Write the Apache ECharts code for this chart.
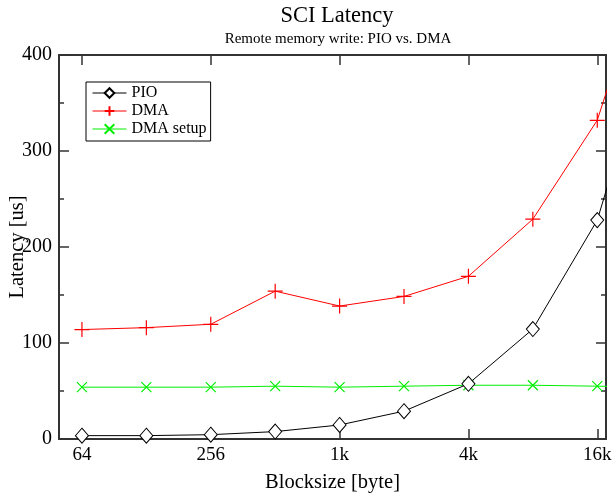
<!DOCTYPE html>
<html>
<head>
<meta charset="utf-8">
<script src="https://cdn.jsdelivr.net/npm/echarts@6/dist/echarts.min.js"></script>
<style>
  html, body { margin: 0; padding: 0; background: #fff; }
  #chart { width: 616px; height: 497px; }
</style>
</head>
<body>
<div id="chart"></div>
<script>
// Block sizes in bytes (log2 x axis)
const blockSizes = [64, 128, 256, 512, 1024, 2048, 4096, 8192, 16384, 32768];
// Latency in microseconds
const pioLatency = [3.5, 3.5, 4.5, 7.7, 14.6, 29, 57.5, 114.5, 228, 450];
const dmaLatency = [114, 116, 119.5, 154, 138.5, 148.5, 169.5, 229, 332, 540];
const dmaSetupLatency = [54, 54, 54, 55, 54, 55, 56, 56, 55, 54];

const xTickValues = [64, 256, 1024, 4096, 16384];
const xTickLabels = ['64', '256', '1k', '4k', '16k'];

const SERIF = '"Liberation Serif", "DejaVu Serif", serif';
const FRAME = '#333';

function pairs(ys) {
  return blockSizes.map((x, i) => [x, ys[i]]);
}

const plusPath = 'path://M0,5L10,5M5,0L5,10';
const crossPath = 'path://M0,0L10,10M10,0L0,10';

const xBase = {
  type: 'log',
  logBase: 2,
  min: 50,
  max: 18000,
  axisLine: { show: true, onZero: false, lineStyle: { color: FRAME, width: 2 } },
  splitLine: { show: false },
  minorTick: { show: false }
};

const yBase = {
  type: 'value',
  min: 0,
  max: 400,
  interval: 100,
  axisLine: { show: true, onZero: false, lineStyle: { color: FRAME, width: 2 } },
  axisTick: { show: true, inside: true, length: 10, lineStyle: { color: FRAME, width: 1.5 } },
  minorTick: { show: true, splitNumber: 2, length: 5, lineStyle: { color: FRAME, width: 1.5 } },
  splitLine: { show: false },
  minorSplitLine: { show: false }
};

const chart = echarts.init(document.getElementById('chart'), null, { renderer: 'canvas' });

chart.setOption({
  animation: false,
  backgroundColor: '#fff',
  title: [
    {
      text: 'SCI Latency',
      left: 332, top: 0, textAlign: 'center',
      textStyle: { fontFamily: SERIF, fontSize: 22.5, fontWeight: 'normal', color: '#000' }
    },
    {
      text: 'Remote memory write: PIO vs. DMA',
      left: 333, top: 27, textAlign: 'center',
      textStyle: { fontFamily: SERIF, fontSize: 15, fontWeight: 'normal', color: '#000' }
    }
  ],
  legend: {
    orient: 'vertical',
    left: 86, top: 82,
    padding: [3, 4, 4, 6],
    itemGap: 2,
    itemWidth: 34, itemHeight: 12,
    borderColor: '#000', borderWidth: 1,
    lineStyle: { width: 1 },
    textStyle: { fontFamily: SERIF, fontSize: 16, color: '#000' },
    data: ['PIO', 'DMA', 'DMA setup']
  },
  grid: { left: 59, right: 10, top: 55, bottom: 58, containLabel: false, outerBoundsMode: 'none' },
  xAxis: [
    Object.assign({}, xBase, {
      position: 'bottom',
      name: 'Blocksize [byte]',
      nameLocation: 'middle',
      nameGap: 33,
      nameMoveOverlap: false,
      nameTextStyle: { fontFamily: SERIF, fontSize: 20.5, color: '#000' },
      axisTick: { show: true, inside: true, length: 10, customValues: xTickValues, lineStyle: { color: FRAME, width: 1.5 } },
      axisLabel: {
        show: true, margin: 7, customValues: xTickValues,
        fontFamily: SERIF, fontSize: 19, color: '#000',
        formatter: v => {
          const i = xTickValues.findIndex(t => Math.abs(t - v) < 1);
          return i >= 0 ? xTickLabels[i] : '';
        }
      }
    }),
    Object.assign({}, xBase, {
      position: 'top',
      axisTick: { show: true, inside: true, length: 10, customValues: xTickValues, lineStyle: { color: FRAME, width: 1.5 } },
      axisLabel: { show: false }
    })
  ],
  yAxis: [
    Object.assign({}, yBase, {
      position: 'left',
      name: 'Latency [us]',
      nameLocation: 'middle',
      nameGap: 31,
      nameMoveOverlap: false,
      nameRotate: 90,
      nameTextStyle: { fontFamily: SERIF, fontSize: 20.5, color: '#000' },
      axisLabel: { show: true, margin: 7, fontFamily: SERIF, fontSize: 20, color: '#000' }
    }),
    Object.assign({}, yBase, {
      position: 'right',
      axisLabel: { show: false }
    })
  ],
  series: [
    {
      name: 'PIO',
      type: 'line',
      data: pairs(pioLatency),
      clip: true,
      symbol: 'diamond',
      symbolSize: [13, 15],
      color: '#000',
      lineStyle: { color: '#000', width: 1 },
      itemStyle: { color: '#fff', borderColor: '#000', borderWidth: 1 },
      z: 3
    },
    {
      name: 'DMA',
      type: 'line',
      data: pairs(dmaLatency),
      clip: true,
      symbol: plusPath,
      symbolSize: 15,
      color: '#ff0000',
      lineStyle: { color: '#ff0000', width: 1 },
      itemStyle: { color: 'none', borderColor: '#ff0000', borderWidth: 1.2 },
      z: 2
    },
    {
      name: 'DMA setup',
      type: 'line',
      data: pairs(dmaSetupLatency),
      clip: true,
      symbol: crossPath,
      symbolSize: 10,
      color: '#00ee00',
      lineStyle: { color: '#00ee00', width: 1 },
      itemStyle: { color: 'none', borderColor: '#00ee00', borderWidth: 1.2 },
      z: 2
    }
  ]
});
</script>
</body>
</html>
